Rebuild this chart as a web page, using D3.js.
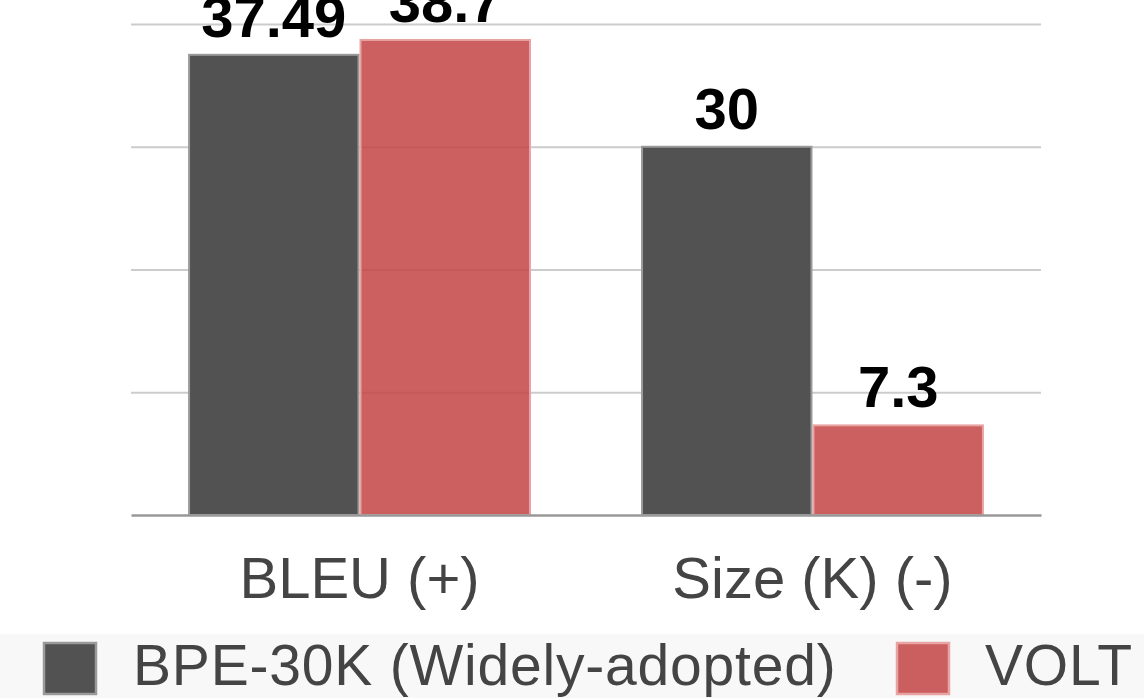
<!DOCTYPE html>
<html>
<head>
<meta charset="utf-8">
<script src="https://cdn.jsdelivr.net/npm/d3@7"></script>
<style>
  html, body { margin: 0; padding: 0; background: #fff; }
  svg { display: block; font-family: "Liberation Sans", Arial, Helvetica, sans-serif; }
</style>
</head>
<body>
<svg id="chart" width="1144" height="698"></svg>
<script>
// Metric groups along the x axis
const categories = ["BLEU (+)", "Size (K) (-)"];
// Series shown side by side in each group
const seriesNames = ["BPE-30K (Widely-adopted)", "VOLT"];
const bpeValues = [37.49, 30];
const voltValues = [38.7, 7.3];
const valueLabels = [["37.49", "30"], ["38.7", "7.3"]];
const gridTicks = [0, 10, 20, 30, 40];

const seriesStyle = [
  { fill: "#525252", fillOpacity: 1, stroke: "#9a9a9a" },
  { fill: "rgb(195,67,67)", fillOpacity: 0.85, stroke: "#e8a3a3" }
];
const seriesValues = [bpeValues, voltValues];

const W = 1144, H = 698;
const left = 131, right = 1041, baseY = 515, topY = 24;

const svg = d3.select("#chart");

const x0 = d3.scaleBand()
  .domain(categories)
  .range([left, right])
  .paddingInner(0.243)
  .paddingOuter(0.126);

const x1 = d3.scaleBand()
  .domain(d3.range(seriesNames.length))
  .range([0, x0.bandwidth()])
  .padding(0);

const y = d3.scaleLinear()
  .domain([0, 40])
  .range([baseY, topY]);

// Horizontal gridlines
const grid = svg.append("g")
  .attr("transform", `translate(${left},0)`)
  .call(d3.axisLeft(y).tickValues(gridTicks.filter(t => t > 0)).tickSize(-(right - left)).tickFormat(""));
grid.select(".domain").remove();
grid.selectAll(".tick line").attr("stroke", "#cccccc").attr("stroke-width", 2);

// Bars
const groups = svg.append("g").selectAll("g")
  .data(categories)
  .join("g")
  .attr("transform", d => `translate(${x0(d)},0)`);

groups.selectAll("rect")
  .data((c, ci) => seriesNames.map((s, si) => ({ si, ci, v: seriesValues[si][ci] })))
  .join("rect")
  .attr("x", d => x1(d.si) + 1)
  .attr("width", x1.bandwidth() - 2)
  .attr("y", d => y(d.v))
  .attr("height", d => baseY - y(d.v))
  .attr("fill", d => seriesStyle[d.si].fill)
  .attr("fill-opacity", d => seriesStyle[d.si].fillOpacity)
  .attr("stroke", d => seriesStyle[d.si].stroke)
  .attr("stroke-width", 2);

// Value labels above the bars
groups.selectAll("text.value")
  .data((c, ci) => seriesNames.map((s, si) => ({ si, ci, v: seriesValues[si][ci] })))
  .join("text")
  .attr("class", "value")
  .attr("x", d => x1(d.si) + x1.bandwidth() / 2)
  .attr("y", d => y(d.v) - 18)
  .attr("text-anchor", "middle")
  .attr("font-size", 58)
  .attr("font-weight", "bold")
  .attr("fill", "#000")
  .text(d => valueLabels[d.si][d.ci]);

// X axis baseline and category labels
const xAxis = svg.append("g")
  .attr("transform", `translate(0,${baseY})`)
  .call(d3.axisBottom(x0).tickSize(0).tickPadding(0));
xAxis.select(".domain").attr("stroke", "#999999").attr("stroke-width", 2.5);
xAxis.selectAll(".tick text")
  .attr("dy", null)
  .attr("y", 83)
  .attr("font-size", 58)
  .attr("font-family", "\"Liberation Sans\", Arial, Helvetica, sans-serif")
  .attr("fill", "#444444");

// Legend band
const legend = svg.append("g");
legend.append("rect")
  .attr("x", 0).attr("y", 634)
  .attr("width", W).attr("height", H - 634)
  .attr("fill", "#f8f8f8");

const legendItems = [
  { si: 0, sx: 44, tx: 133 },
  { si: 1, sx: 897, tx: 985 }
];
legendItems.forEach(it => {
  const st = seriesStyle[it.si];
  legend.append("rect")
    .attr("x", it.sx).attr("y", 643)
    .attr("width", 52).attr("height", 51)
    .attr("fill", st.fill).attr("fill-opacity", st.fillOpacity)
    .attr("stroke", st.stroke).attr("stroke-width", 2.5);
  legend.append("text")
    .attr("x", it.tx).attr("y", 685)
    .attr("font-size", 57)
    .attr("letter-spacing", 0.8)
    .attr("fill", "#444444")
    .text(seriesNames[it.si]);
});
</script>
</body>
</html>
